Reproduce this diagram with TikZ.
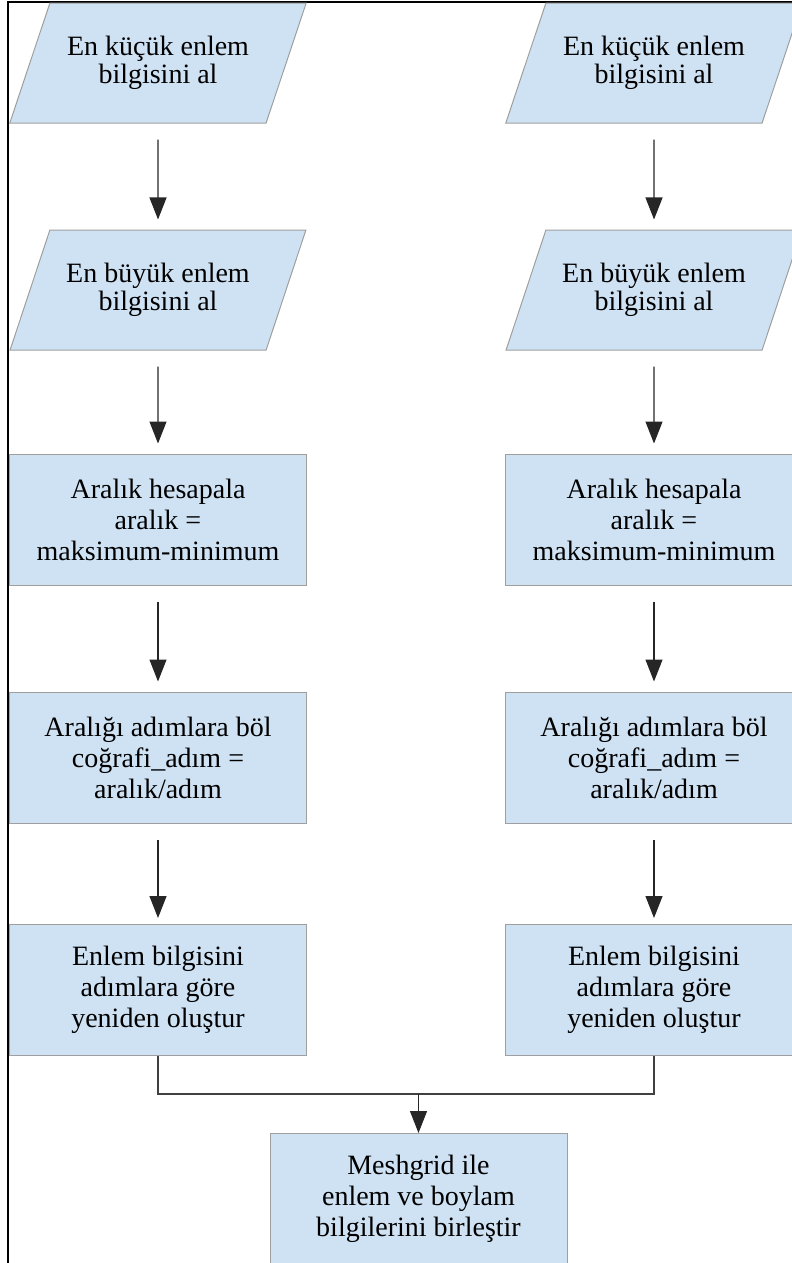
\documentclass[tikz,border=0pt]{standalone}
\usepackage{fontspec}
\setmainfont{Liberation Serif}
\usepackage{tikz}
\usetikzlibrary{shapes.geometric, arrows.meta}
\definecolor{boxblue}{RGB}{207,226,243}
\tikzstyle{io} = [trapezium, trapezium left angle=60, trapezium right angle=120, trapezium stretches, draw=gray!75, line width=1bp, fill=boxblue, minimum width=297bp, minimum height=120bp, align=center, font=\fontsize{28bp}{28.5bp}\selectfont]
\tikzstyle{proc} = [rectangle, draw=gray!75, line width=1bp, fill=boxblue, minimum width=297bp, minimum height=131bp, align=center, font=\fontsize{28bp}{31bp}\selectfont]
\tikzstyle{flow} = [->, draw=black!85, line width=1.2bp, shorten <=16bp, shorten >=10bp]
\tikzstyle{mergeline} = [draw=black!75, line width=1.2bp]

\begin{document}
\begin{tikzpicture}[>={Triangle[length=22bp,width=17bp]}]
  \useasboundingbox (0,0) rectangle (792bp,-1263bp);
  \draw[line width=1.6bp] (8bp,-1263bp) -- (8bp,-2bp) -- (792bp,-2bp);
  % left column
  \node [io] (lmin) at (158bp,-63bp) {En küçük enlem\\bilgisini al};
  \node [io] (lmax) [below of=lmin, node distance=227bp] {En büyük enlem\\bilgisini al};
  \node [proc] (lrange) [below of=lmax, node distance=229.5bp] {Aralık hesapala\\aralık =\\maksimum-minimum};
  \node [proc] (lstep) [below of=lrange, node distance=238bp] {Aralığı adımlara böl\\coğrafi\_adım =\\aralık/adım};
  \node [proc] (lgrid) [below of=lstep, node distance=232.5bp] {Enlem bilgisini\\adımlara göre\\yeniden oluştur};
  % right column
  \node [io] (rmin) [right of=lmin, node distance=496bp] {En küçük enlem\\bilgisini al};
  \node [io] (rmax) [right of=lmax, node distance=496bp] {En büyük enlem\\bilgisini al};
  \node [proc] (rrange) [right of=lrange, node distance=496bp] {Aralık hesapala\\aralık =\\maksimum-minimum};
  \node [proc] (rstep) [right of=lstep, node distance=496bp] {Aralığı adımlara böl\\coğrafi\_adım =\\aralık/adım};
  \node [proc] (rgrid) [right of=lgrid, node distance=496bp] {Enlem bilgisini\\adımlara göre\\yeniden oluştur};
  % merge
  \node [proc] (mesh) at (418.5bp,-1199bp) {Meshgrid ile\\enlem ve boylam\\bilgilerini birleştir};
  \draw[flow] (lmin) -- (lmax);
  \draw[flow] (lmax) -- (lrange);
  \draw[flow] (lrange) -- (lstep);
  \draw[flow, shorten >=6bp] (lstep) -- (lgrid);
  \draw[flow] (rmin) -- (rmax);
  \draw[flow] (rmax) -- (rrange);
  \draw[flow] (rrange) -- (rstep);
  \draw[flow, shorten >=6bp] (rstep) -- (rgrid);
  \draw[mergeline] (lgrid.south) -- ++(0,-38bp) coordinate (merge) -| (rgrid.south);
  \draw[flow, shorten <=0bp, shorten >=0bp] (merge -| mesh.north) -- (mesh.north);
\end{tikzpicture}
\end{document}
